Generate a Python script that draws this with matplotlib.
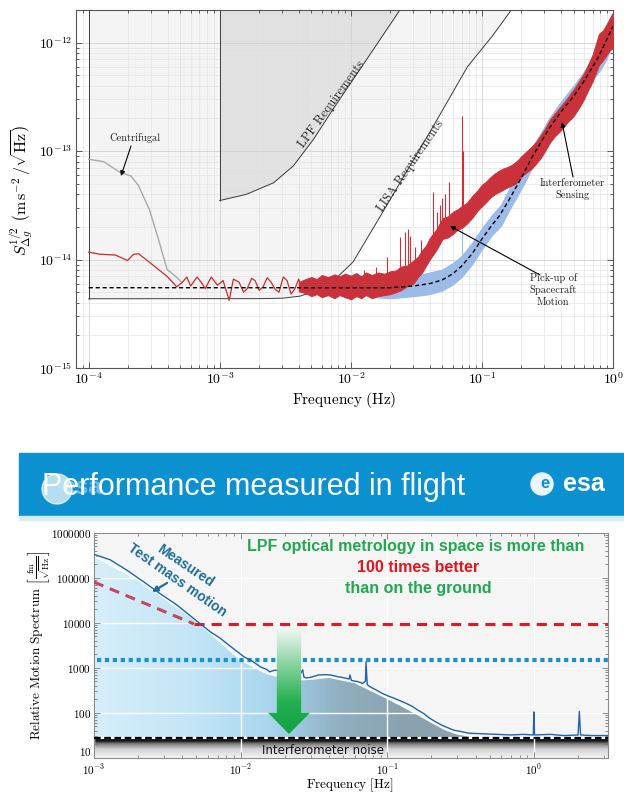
import numpy as np
import matplotlib
matplotlib.use("Agg")
import matplotlib.pyplot as plt
from matplotlib.patches import Polygon, Rectangle, Ellipse
from matplotlib.colors import LinearSegmentedColormap
from matplotlib.ticker import FixedLocator, FixedFormatter, NullFormatter

plt.rcParams["mathtext.fontset"] = "cm"

W, H = 624, 794


def fx(x):
    return x / W


def fy(y):
    return 1 - y / H


# ---------------- top panel data (acceleration noise) ----------------
lisa_f = [1e-4, 2e-3, 3e-3, 4.1e-3, 5.5e-3, 7.3e-3, 1.04e-2, 1.77e-2, 4.26e-2, 7.76e-2, 0.12, 0.17]
lisa_v = [4.35e-15, 4.36e-15, 4.4e-15, 4.6e-15, 5.2e-15, 6.3e-15, 9.5e-15, 2.8e-14, 1.7e-13, 6e-13, 1.15e-12, 2.05e-12]

lpf_f = [1e-3, 1.6e-3, 2.57e-3, 3.64e-3, 5.2e-3, 7.3e-3, 1.32e-2, 2.4e-2]
lpf_v = [3.5e-14, 4.0e-14, 5.1e-14, 7.3e-14, 1.29e-13, 2.43e-13, 7e-13, 2.05e-12]

cent_f = [1e-4, 1.3e-4, 1.72e-4, 2.1e-4, 2.4e-4, 2.9e-4, 3.4e-4, 3.96e-4, 4.6e-4, 5.1e-4]
cent_v = [8.4e-14, 8e-14, 6.4e-14, 5.9e-14, 4.8e-14, 2.9e-14, 1.55e-14, 8.1e-15, 7e-15, 6.2e-15]

red_f = [1e-4, 1.21e-4, 1.6e-4, 1.98e-4, 2.2e-4, 2.4e-4, 2.8e-4, 3.4e-4, 3.96e-4, 4.7e-4,
         5.2e-4, 5.6e-4, 6.0e-4, 6.7e-4, 7.2e-4, 7.75e-4, 8.6e-4, 9.6e-4, 1.06e-3, 1.18e-3,
         1.27e-3, 1.4e-3, 1.52e-3, 1.62e-3, 1.75e-3, 1.86e-3, 2.0e-3, 2.14e-3, 2.3e-3, 2.46e-3,
         2.65e-3, 2.83e-3, 3.05e-3, 3.26e-3, 3.5e-3, 3.75e-3, 4.0e-3, 4.3e-3]
red_v = [1.17e-14, 1.12e-14, 1.1e-14, 9.8e-15, 1.12e-14, 1.13e-14, 9.8e-15, 8.1e-15, 7e-15, 5.6e-15,
         6.2e-15, 6.9e-15, 5.7e-15, 6.9e-15, 6.2e-15, 5.4e-15, 6.9e-15, 5.8e-15, 6.4e-15, 4.2e-15,
         6.6e-15, 6.2e-15, 5.0e-15, 5.4e-15, 6.7e-15, 6.4e-15, 5.2e-15, 5.6e-15, 6.8e-15, 6.2e-15,
         5.3e-15, 5.0e-15, 6.9e-15, 6.4e-15, 4.8e-15, 5.4e-15, 6.6e-15, 5.0e-15]

band_f = [4e-3, 4.5e-3, 5e-3, 5.5e-3, 6e-3, 6.7e-3, 7.5e-3, 8.2e-3, 9e-3, 1e-2,
          1.1e-2, 1.2e-2, 1.3e-2, 1.45e-2, 1.6e-2, 1.8e-2, 2e-2, 2.2e-2, 2.4e-2, 2.7e-2,
          3e-2, 3.25e-2, 3.5e-2, 3.75e-2, 4e-2, 4.5e-2, 5e-2, 5.5e-2, 6e-2, 6.5e-2,
          7e-2, 7.7e-2, 8.5e-2, 9.2e-2, 0.1, 0.107, 0.115, 0.125, 0.135, 0.145,
          0.155, 0.167, 0.18, 0.19, 0.2, 0.22, 0.24, 0.26, 0.28, 0.3,
          0.33, 0.36, 0.4, 0.45, 0.5, 0.55, 0.6, 0.65, 0.7, 0.78,
          0.84, 0.9, 0.95, 1.0]
band_lo = [5.1e-15, 4.9e-15, 4.6e-15, 4.8e-15, 4.5e-15, 4.7e-15, 4.4e-15, 4.7e-15, 4.5e-15, 4.3e-15,
           4.6e-15, 4.4e-15, 4.7e-15, 4.4e-15, 4.6e-15, 4.7e-15, 4.8e-15, 5.0e-15, 5.2e-15, 5.7e-15,
           6.0e-15, 6.9e-15, 7.6e-15, 8.8e-15, 1.0e-14, 1.23e-14, 1.55e-14, 1.6e-14, 1.72e-14, 1.88e-14,
           1.95e-14, 2.15e-14, 2.45e-14, 2.8e-14, 3.1e-14, 3.35e-14, 3.7e-14, 4.0e-14, 4.2e-14, 4.4e-14,
           4.6e-14, 4.8e-14, 5.0e-14, 5.3e-14, 5.8e-14, 6.4e-14, 6.9e-14, 7.7e-14, 8.6e-14, 9.8e-14,
           1.2e-13, 1.37e-13, 1.55e-13, 1.85e-13, 2.1e-13, 2.5e-13, 3.0e-13, 3.7e-13, 4.4e-13, 6.2e-13,
           6.9e-13, 7.8e-13, 8.5e-13, 9.0e-13]
band_hi = [6.2e-15, 6.6e-15, 6.9e-15, 6.6e-15, 7.2e-15, 6.9e-15, 7.3e-15, 7.0e-15, 7.4e-15, 7.1e-15,
           7.5e-15, 7.0e-15, 7.6e-15, 7.2e-15, 7.6e-15, 7.4e-15, 7.8e-15, 7.9e-15, 8.6e-15, 8.8e-15,
           9.8e-15, 1.06e-14, 1.22e-14, 1.35e-14, 1.58e-14, 1.9e-14, 2.4e-14, 2.5e-14, 2.75e-14, 2.9e-14,
           3.1e-14, 3.35e-14, 3.9e-14, 4.3e-14, 4.9e-14, 5.2e-14, 5.7e-14, 6.2e-14, 6.6e-14, 6.9e-14,
           7.1e-14, 7.4e-14, 7.9e-14, 8.4e-14, 9.0e-14, 1.0e-13, 1.1e-13, 1.22e-13, 1.4e-13, 1.58e-13,
           1.95e-13, 2.22e-13, 2.6e-13, 3.1e-13, 3.7e-13, 4.4e-13, 5.2e-13, 6.4e-13, 7.8e-13, 1.2e-12,
           1.3e-12, 1.5e-12, 1.7e-12, 1.9e-12]

blue_f = [1.5e-2, 2e-2, 2.5e-2, 3e-2, 3.5e-2, 4e-2, 5e-2, 6e-2, 7e-2, 8.5e-2,
          0.1, 0.12, 0.14, 0.16, 0.18, 0.21, 0.24, 0.28, 0.33, 0.4,
          0.5, 0.6, 0.7, 0.8, 0.9, 1.0]
blue_lo = [4.5e-15, 4.4e-15, 4.5e-15, 4.6e-15, 4.7e-15, 4.8e-15, 5.2e-15, 5.9e-15, 6.9e-15, 9.2e-15,
           1.25e-14, 1.7e-14, 2.05e-14, 2.8e-14, 3.6e-14, 5.0e-14, 7e-14, 9.5e-14, 1.33e-13, 1.85e-13,
           2.6e-13, 3.5e-13, 4.6e-13, 5.6e-13, 7.2e-13, 1.1e-12]
blue_hi = [5.9e-15, 6.3e-15, 6.6e-15, 7e-15, 7.3e-15, 7.6e-15, 8.1e-15, 9.3e-15, 1.08e-14, 1.45e-14,
           1.95e-14, 2.6e-14, 3.2e-14, 4.4e-14, 5.6e-14, 7.6e-14, 1.08e-13, 1.45e-13, 2.05e-13, 2.85e-13,
           4e-13, 5.4e-13, 7.1e-13, 8.8e-13, 1.1e-12, 1.75e-12]

model_f = [1e-4, 2e-2, 3e-2, 4e-2, 5e-2, 6e-2, 7e-2, 8.5e-2, 0.1, 0.12,
           0.135, 0.16, 0.2, 0.24, 0.33, 0.4, 0.5, 0.6, 0.78, 1.0]
model_v = [5.5e-15, 5.5e-15, 5.7e-15, 6.0e-15, 6.5e-15, 7.4e-15, 8.7e-15, 1.15e-14, 1.55e-14, 2.1e-14,
           2.5e-14, 3.5e-14, 5.7e-14, 8.7e-14, 1.66e-13, 2.3e-13, 3.2e-13, 4.4e-13, 7.5e-13, 1.42e-12]

spike_f = [1.25e-2, 1.55e-2, 1.9e-2, 2.38e-2, 2.61e-2, 2.75e-2, 2.82e-2, 3.1e-2, 3.4e-2, 4.26e-2,
           4.55e-2, 4.78e-2, 4.95e-2, 5.26e-2, 5.63e-2, 7.0e-2, 7.13e-2]
spike_lo = [6e-15, 6e-15, 6e-15, 6.5e-15, 7e-15, 7e-15, 7e-15, 8e-15, 9e-15, 1.2e-14,
            1.3e-14, 1.4e-14, 1.5e-14, 1.6e-14, 1.7e-14, 2e-14, 2e-14]
spike_hi = [8e-15, 8.5e-15, 1.05e-14, 1.6e-14, 1.8e-14, 1.9e-14, 1.65e-14, 1.3e-14, 1.5e-14, 4.2e-14,
            2.75e-14, 3.2e-14, 3.7e-14, 4e-14, 5.2e-14, 2.1e-13, 1e-13]

top_xticks = [1e-4, 1e-3, 1e-2, 1e-1, 1e0]
top_xlabels = [r"$10^{-4}$", r"$10^{-3}$", r"$10^{-2}$", r"$10^{-1}$", r"$10^{0}$"]
top_yticks = [1e-15, 1e-14, 1e-13, 1e-12]
top_ylabels = [r"$10^{-15}$", r"$10^{-14}$", r"$10^{-13}$", r"$10^{-12}$"]

# ---------------- bottom panel data (relative motion spectrum) ----------------
meas_f = [1e-3, 1.29e-3, 1.67e-3, 2.17e-3, 2.8e-3, 3.66e-3, 4.75e-3, 6.2e-3, 7.2e-3, 8e-3,
          9e-3, 1.05e-2, 1.2e-2, 1.36e-2, 1.5e-2, 1.58e-2, 1.7e-2, 1.8e-2, 1.95e-2, 2.2e-2,
          2.5e-2, 2.65e-2, 2.7e-2, 2.8e-2, 3.0e-2, 3.4e-2, 3.8e-2, 4.1e-2, 4.5e-2, 4.9e-2,
          5.5e-2, 5.56e-2, 5.7e-2, 6.3e-2, 6.8e-2, 7.1e-2, 7.16e-2, 7.3e-2, 7.6e-2, 8.4e-2,
          9.2e-2, 0.1, 0.111, 0.122, 0.134, 0.147, 0.161, 0.178, 0.195, 0.215,
          0.235, 0.26, 0.283, 0.32, 0.36, 0.45, 0.56, 0.7, 0.85, 0.99,
          1.0, 1.01, 1.3, 1.6, 2.0, 2.04, 2.08, 2.5, 3.2]
meas_v = [3.3e5, 2.5e5, 1.48e5, 8.2e4, 4.5e4, 2.5e4, 1.26e4, 6.3e3, 4.6e3, 3.5e3,
          2.6e3, 1.76e3, 1.4e3, 1.05e3, 920, 810, 880, 860, 720, 780,
          640, 900, 620, 590, 610, 690, 700, 690, 640, 610,
          560, 690, 520, 490, 450, 500, 1350, 420, 380, 320,
          270, 240, 210, 185, 162, 140, 115, 95, 75, 62,
          53, 46, 41, 38, 35, 34, 33, 32, 33, 32,
          104, 32, 33, 31, 32, 107, 32, 31, 31]

fill_f = [1e-3, 2e-3, 5e-3, 1e-2, 1.5e-2, 2e-2, 2.5e-2, 3e-2, 4e-2, 6e-2, 0.1, 0.15, 0.2, 0.25, 0.3, 0.4]
fill_v = [3.0e5, 9e4, 1.1e4, 1.5e3, 750, 590, 540, 560, 620, 470, 210, 105, 62, 42, 34, 29]

ground_f = [1e-3, 4.8e-3, 3.2]
ground_v = [8e4, 9.4e3, 9.4e3]

space_req_f = [1.05e-3, 3.2]
space_req_v = [1450, 1450]

noise_level = 27
noise_f = [1e-3, 3.2]

bot_xticks = [1e-3, 1e-2, 1e-1, 1e0]
bot_xlabels = [r"$10^{-3}$", r"$10^{-2}$", r"$10^{-1}$", r"$10^{0}$"]
bot_yticks = [10, 100, 1000, 10000, 100000, 1000000]
bot_ylabels = [r"$10$", r"$100$", r"$1000$", r"$10000$", r"$100000$", r"$1000000$"]

# ======================================================================
fig = plt.figure(figsize=(6.24, 7.94), dpi=100)
fig.patch.set_facecolor("white")

# ---------------- top panel ----------------
ax1 = fig.add_axes([fx(76), fy(368), fx(613) - fx(76), fy(10) - fy(368)])
ax1.set_xscale("log")
ax1.set_yscale("log")
ax1.set_xlim(8e-5, 1)
ax1.set_ylim(1e-15, 2e-12)

ax1.grid(True, which="major", color="#d2d2d2", lw=0.6)
ax1.grid(True, which="minor", color="#e4e4e4", lw=0.5)

ax1.fill_between(lisa_f, lisa_v, 1e-11, color="k", alpha=0.045, lw=0, zorder=1)
ax1.fill_between(lpf_f, lpf_v, 1e-11, color="k", alpha=0.075, lw=0, zorder=1)
ax1.plot(lisa_f, lisa_v, color="#3c3c3c", lw=0.7, zorder=2)
ax1.vlines(lisa_f[0], lisa_v[0], 1e-11, color="#3c3c3c", lw=0.7, zorder=2)
ax1.plot(lpf_f, lpf_v, color="#3c3c3c", lw=0.7, zorder=2)
ax1.vlines(lpf_f[0], lpf_v[0], 1e-11, color="#3c3c3c", lw=0.7, zorder=2)

ax1.plot(cent_f, cent_v, color="#a9a9a9", lw=1.0, zorder=3)
ax1.plot(red_f, red_v, color="#cc2b2b", lw=0.9, zorder=4)
ax1.fill_between(blue_f, blue_lo, blue_hi, color="#9dbbe8", edgecolor="#9dbbe8", lw=0.8, zorder=4)
ax1.vlines([0.071], [1.1e-14], [1.9e-14], color="#9dbbe8", lw=0.8, zorder=4)
ax1.vlines(spike_f, spike_lo, spike_hi, color="#cc3038", lw=0.8, zorder=5)
ax1.fill_between(band_f, band_lo, band_hi, color="#c9323a", edgecolor="#c9323a", lw=0.7, zorder=5)
ax1.plot(model_f, model_v, color="k", lw=1.0, dashes=(3, 2), zorder=6)

ax1.xaxis.set_major_locator(FixedLocator(top_xticks))
ax1.xaxis.set_major_formatter(FixedFormatter(top_xlabels))
ax1.yaxis.set_major_locator(FixedLocator(top_yticks))
ax1.yaxis.set_major_formatter(FixedFormatter(top_ylabels))
ax1.xaxis.set_minor_formatter(NullFormatter())
ax1.yaxis.set_minor_formatter(NullFormatter())
ax1.tick_params(which="both", direction="in", top=True, right=True, color="#444444", width=0.6)
ax1.tick_params(which="major", length=4, labelsize=10, pad=2.5)
ax1.tick_params(which="minor", length=2)
for s in ax1.spines.values():
    s.set_color("#555555")
    s.set_linewidth(0.8)

fig.text(fx(344), fy(400), r"$\mathrm{Frequency\ (Hz)}$", ha="center", va="center", fontsize=11)
fig.text(fx(22), fy(190), r"$S_{\Delta g}^{1/2}\ \left(\mathrm{m\,s^{-2}}\,/\sqrt{\mathrm{Hz}}\right)$",
         rotation=90, ha="center", va="center", fontsize=11.5)

serif = dict(family="cmr10", color="#222222")
fig.text(fx(332), fy(104), "LPF Requirements", rotation=54, ha="center", va="center", fontsize=9, **serif)
fig.text(fx(411), fy(166), "LISA Requirements", rotation=55.5, ha="center", va="center", fontsize=9, **serif)
fig.text(fx(135), fy(138), "Centrifugal", ha="center", va="center", fontsize=7.5, **serif)
fig.text(fx(572), fy(189), "Interferometer\nSensing", ha="center", va="center", fontsize=7.5,
         linespacing=1.25, **serif)
fig.text(fx(553), fy(290), "Pick-up of\nSpacecraft\nMotion", ha="center", va="center", fontsize=7.5,
         linespacing=1.25, **serif)

arr = dict(arrowstyle="-|>", color="k", lw=0.8, mutation_scale=7, shrinkA=0, shrinkB=0)
for tail, head in [((131, 146), (121, 176)), ((573, 177), (562, 122)), ((540, 275), (450, 226))]:
    ax1.annotate("", xy=(fx(head[0]), fy(head[1])), xytext=(fx(tail[0]), fy(tail[1])),
                 xycoords="figure fraction", textcoords="figure fraction", arrowprops=arr, zorder=8)

# ---------------- slide banner ----------------
banner_blue = "#0b91d0"
fig.patches.append(Rectangle((fx(19), fy(516)), fx(624) - fx(19), fy(453) - fy(516),
                             transform=fig.transFigure, color=banner_blue, zorder=0))
fig.patches.append(Rectangle((fx(19), fy(520)), fx(624) - fx(19), fy(516) - fy(520),
                             transform=fig.transFigure, color="#d6ecf7", zorder=0))

fig.text(fx(42), fy(487), "Performance measured in flight", color="white", fontsize=22,
         family="Liberation Sans", ha="left", va="center")
# ghost of the logo fading in over the title
fig.patches.append(Ellipse((fx(57), fy(489)), 30 / W, 30 / H, transform=fig.transFigure,
                           color="white", alpha=0.7, zorder=3))
fig.text(fx(62), fy(487), "esa", color="white", alpha=0.4, fontsize=17, fontweight="bold",
         family="Liberation Sans", ha="left", va="center")

fig.patches.append(Ellipse((fx(542), fy(484)), 22 / W, 22 / H, transform=fig.transFigure,
                           color="#e9f5fb", zorder=3))
fig.text(fx(545), fy(484), "e", color=banner_blue, fontsize=12, fontweight="bold",
         family="Liberation Sans", ha="center", va="center")
fig.text(fx(584), fy(484), "esa", color="white", fontsize=18, fontweight="bold",
         family="Liberation Sans", ha="center", va="center")

# ---------------- bottom panel ----------------
ax2 = fig.add_axes([fx(94), fy(757.7), fx(608) - fx(94), fy(532.7) - fy(757.7)])
ax2.set_xscale("log")
ax2.set_yscale("log")
xlim2 = (1e-3, 3.2)
ylim2 = (10, 1e6)
ax2.set_xlim(*xlim2)
ax2.set_ylim(*ylim2)
ax2.set_facecolor("#f5f5f5")
ax2.grid(True, which="major", color="white", lw=1.0)

fill_cmap = LinearSegmentedColormap.from_list(
    "fill", [(0, "#d6eefa"), (0.2, "#c2e5f6"), (0.33, "#aad8ef"), (0.4, "#9dc7dd"),
             (0.48, "#8fb0c1"), (0.6, "#8aa2af"), (1, "#8a9da8")])
im = ax2.imshow(np.linspace(0, 1, 300).reshape(1, -1), extent=[0, 1, 0, 1], origin="lower",
                transform=ax2.transAxes, aspect="auto", cmap=fill_cmap, zorder=1)
clip = Polygon(list(zip(fill_f, fill_v)) + [(fill_f[-1], noise_level), (fill_f[0], noise_level)],
               closed=True, transform=ax2.transData)
im.set_clip_path(clip)
ax2.plot(fill_f, fill_v, color="white", lw=1.2, zorder=2)

yf_noise = (np.log10(noise_level) - np.log10(ylim2[0])) / (np.log10(ylim2[1]) - np.log10(ylim2[0]))
noise_cmap = LinearSegmentedColormap.from_list(
    "noise", [(0, "#f4f4f4"), (0.45, "#d2d2d2"), (0.72, "#7a7a7a"), (0.86, "#151515"), (1, "#000000")])
ax2.imshow(np.linspace(0, 1, 200).reshape(-1, 1), extent=[0, 1, 0, yf_noise], origin="lower",
           transform=ax2.transAxes, aspect="auto", cmap=noise_cmap, zorder=1)

ax2.plot(meas_f, meas_v, color="#1f66a8", lw=1.0, zorder=5)
ax2.plot(ground_f[:2], ground_v[:2], color="#c9435a", lw=2.2, dashes=(3.3, 2.3), zorder=4)
ax2.plot(ground_f[1:], ground_v[1:], color="#e8161e", lw=2.2, dashes=(3.3, 2.3), zorder=4)
ax2.plot(space_req_f, space_req_v, color="#1a8fd0", lw=3.0, dashes=(1.0, 0.9), zorder=4)
ax2.plot(noise_f, [noise_level, noise_level], color="white", lw=1.6, zorder=6)
ax2.plot(noise_f, [noise_level, noise_level], color="black", lw=1.6, dashes=(3, 1.6), zorder=6)

ax2.xaxis.set_major_locator(FixedLocator(bot_xticks))
ax2.xaxis.set_major_formatter(FixedFormatter(bot_xlabels))
ax2.yaxis.set_major_locator(FixedLocator(bot_yticks))
ax2.yaxis.set_major_formatter(FixedFormatter(bot_ylabels))
ax2.xaxis.set_minor_formatter(NullFormatter())
ax2.yaxis.set_minor_formatter(NullFormatter())
ax2.tick_params(which="both", direction="in", top=True, right=True, color="#777777", width=0.6)
ax2.tick_params(which="major", length=4, labelsize=8, pad=2)
ax2.tick_params(axis="x", which="major", pad=3.5)
ax2.tick_params(which="minor", length=2)
for s in ax2.spines.values():
    s.set_color("#8a8a8a")
    s.set_linewidth(0.8)
ax2.set_xlim(*xlim2)
ax2.set_ylim(*ylim2)
# lift the lowest y label a little so it clears the first x label
ax2.get_yticklabels()[0].set_va("bottom")

fig.text(fx(350), fy(785), r"$\mathrm{Frequency\ [Hz]}$", ha="center", va="center", fontsize=9.5)
fig.text(fx(38), fy(645),
         r"$\mathrm{Relative\ Motion\ Spectrum}\ \left[\frac{\mathrm{fm}}{\sqrt{\mathrm{Hz}}}\right]$",
         rotation=90, ha="center", va="center", fontsize=9.5)

# gradient arrow
axa = fig.add_axes([fx(268), fy(734), fx(310) - fx(268), fy(628) - fy(734)])
axa.set_xlim(0, 1)
axa.set_ylim(0, 1)
axa.axis("off")
arrow_cmap = LinearSegmentedColormap.from_list(
    "arrow", [(0, "#14a046"), (0.3, "#22b04f"), (0.65, "#86d29e"), (1, "#f2f9f4")])
ima = axa.imshow(np.linspace(0, 1, 200).reshape(-1, 1), extent=[0, 1, 0, 1], origin="lower",
                 cmap=arrow_cmap, aspect="auto")
ima.set_clip_path(Polygon([(0.21, 1), (0.79, 1), (0.79, 0.2), (1, 0.2), (0.5, 0), (0, 0.2), (0.21, 0.2)],
                          closed=True, transform=axa.transAxes))

green = "#21a94f"
bold = dict(family="Liberation Sans", fontweight="bold", ha="center", va="center")
fig.text(fx(416), fy(547), "LPF optical metrology in space is more than", color=green, fontsize=11.5, **bold)
fig.text(fx(418), fy(568), "100 times better", color="#e2141c", fontsize=11.5, **bold)
fig.text(fx(418), fy(589), "than on the ground", color=green, fontsize=11.5, **bold)

tm = "#1f6d9c"
fig.text(fx(185), fy(566), "Measured", rotation=-34, rotation_mode="anchor", color=tm, fontsize=10, **bold)
fig.text(fx(177), fy(580), "Test mass motion", rotation=-35, rotation_mode="anchor", color=tm, fontsize=10,
         **bold)
ax2.annotate("", xy=(fx(152), fy(592)), xytext=(fx(167), fy(583)), xycoords="figure fraction",
             textcoords="figure fraction",
             arrowprops=dict(arrowstyle="-|>", color=tm, lw=1.6, mutation_scale=8, shrinkA=0, shrinkB=0))

fig.text(fx(323), fy(750), "Interferometer noise", color="#111111", fontsize=8.5, family="DejaVu Sans",
         ha="center", va="center")

fig.savefig("out.png", dpi=100)
